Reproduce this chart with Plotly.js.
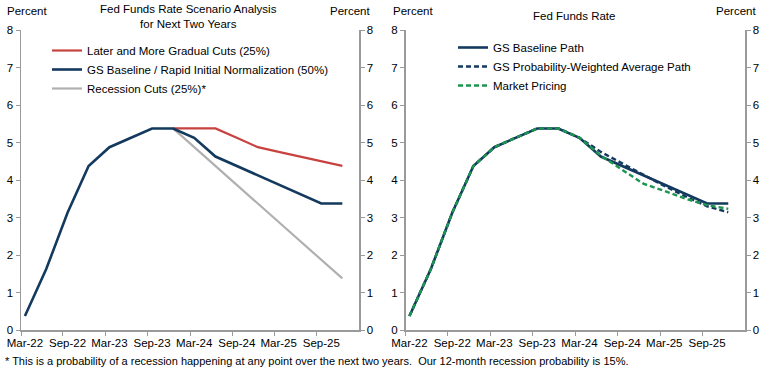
<!DOCTYPE html>
<html>
<head>
<meta charset="utf-8">
<script src="https://cdn.plot.ly/plotly-3.0.1.min.js"></script>
<style>
  html, body { margin: 0; padding: 0; background: #fff; }
  #chart { width: 767px; height: 372px; }
</style>
</head>
<body>
<div id="chart"></div>
<script>
// ---- Data (quarterly) ----
const quarters = ['2022-03-01','2022-06-01','2022-09-01','2022-12-01',
                  '2023-03-01','2023-06-01','2023-09-01','2023-12-01',
                  '2024-03-01','2024-06-01','2024-09-01','2024-12-01',
                  '2025-03-01','2025-06-01','2025-09-01','2025-12-01'];
const scenarioQuarters = ['2023-12-01','2024-03-01','2024-06-01','2024-09-01','2024-12-01',
                          '2025-03-01','2025-06-01','2025-09-01','2025-12-01'];

const gsBaseline   = [0.375,1.625,3.125,4.375,4.875,5.125,5.375,5.375,5.125,4.625,4.375,4.125,3.875,3.625,3.375,3.375];
const laterCuts    = [5.375,5.375,5.375,5.125,4.875,4.75,4.625,4.5,4.375];
const recessionCuts= [5.375,4.875,4.375,3.875,3.375,2.875,2.375,1.875,1.375];

const probWeighted = [0.375,1.625,3.125,4.375,4.875,5.125,5.375,5.375,5.125,4.75,4.44,4.13,3.84,3.56,3.30,3.14];
const marketPricing= [0.375,1.625,3.125,4.375,4.875,5.125,5.375,5.375,5.13,4.65,4.27,3.90,3.71,3.50,3.33,3.23];

const tickDates  = ['2022-03-01','2022-09-01','2023-03-01','2023-09-01','2024-03-01','2024-09-01','2025-03-01','2025-09-01'];
const tickLabels = ['Mar-22','Sep-22','Mar-23','Sep-23','Mar-24','Sep-24','Mar-25','Sep-25'];

const leftTitle  = 'Fed Funds Rate Scenario Analysis<br>for Next Two Years';
const rightTitle = 'Fed Funds Rate';
const footnote   = '* This is a probability of a recession happening at any point over the next two years.  Our 12-month recession probability is 15%.';

// ---- Styles ----
const NAVY = '#133A5E', RED = '#C8423F', GRAY = '#B0B0B0', GREEN = '#1C9550';
const AXIS = '#9A9A9A';
const FONT = 'Liberation Sans, Arial, sans-serif';
const FS = 11.5;
const W = 767, H = 372;
const px = v => v / W, py = v => (H - v) / H;

const traces = [
  {x: scenarioQuarters, y: laterCuts, name: 'Later and More Gradual Cuts (25%)', legendrank: 1,
   mode: 'lines', line: {color: RED, width: 2.2}, xaxis: 'x', yaxis: 'y', legend: 'legend'},
  {x: scenarioQuarters, y: recessionCuts, name: 'Recession Cuts (25%)*', legendrank: 3,
   mode: 'lines', line: {color: GRAY, width: 2.2}, xaxis: 'x', yaxis: 'y', legend: 'legend'},
  {x: quarters, y: gsBaseline, name: 'GS Baseline / Rapid Initial Normalization (50%)', legendrank: 2,
   mode: 'lines', line: {color: NAVY, width: 2.6}, xaxis: 'x', yaxis: 'y', legend: 'legend'},
  // empty helper trace so the right-hand value axis of the left panel is drawn
  {x: [], y: [], xaxis: 'x', yaxis: 'y2', showlegend: false, hoverinfo: 'skip', mode: 'lines'},

  {x: quarters, y: gsBaseline, name: 'GS Baseline Path',
   mode: 'lines', line: {color: NAVY, width: 2.6}, xaxis: 'x2', yaxis: 'y3', legend: 'legend2'},
  {x: quarters, y: probWeighted, name: 'GS Probability-Weighted Average Path',
   mode: 'lines', line: {color: NAVY, width: 2.4, dash: '5px,3px'}, xaxis: 'x2', yaxis: 'y3', legend: 'legend2'},
  {x: quarters, y: marketPricing, name: 'Market Pricing',
   mode: 'lines', line: {color: GREEN, width: 2.4, dash: '5px,3px'}, xaxis: 'x2', yaxis: 'y3', legend: 'legend2'},
  // empty helper trace so the right-hand value axis of the right panel is drawn
  {x: [], y: [], xaxis: 'x2', yaxis: 'y4', showlegend: false, hoverinfo: 'skip', mode: 'lines'}
];

const xDomL = [px(21), px(359)], xDomR = [px(405.5), px(745)];
const yDom = [py(330), py(30)];
const xRange = ['2022-02-12', '2026-02-11'];

function xAxis(domain, anchor) {
  return {
    domain: domain, anchor: anchor, type: 'date', range: xRange,
    tickmode: 'array', tickvals: tickDates, ticktext: tickLabels,
    ticks: '', ticklabelstandoff: 2,
    minor: {tickmode: 'linear', tick0: '2022-02-12', dtick: 'M6', ticks: 'outside', ticklen: 4,
            tickcolor: AXIS, tickwidth: 1, showgrid: false},
    showline: true, linecolor: AXIS, linewidth: 1.5, showgrid: false, zeroline: false,
    tickfont: {family: FONT, size: FS, color: '#000'}, fixedrange: true
  };
}
function yAxis(anchor, side, overlaying) {
  const a = {
    domain: yDom, anchor: anchor, side: side, range: [0, 8], dtick: 1, tick0: 0,
    ticks: 'outside', ticklen: 4, tickcolor: AXIS, tickwidth: 1,
    showline: true, linecolor: AXIS, linewidth: 1.5, showgrid: false, zeroline: false,
    tickfont: {family: FONT, size: FS, color: '#000'}, fixedrange: true
  };
  if (overlaying) a.overlaying = overlaying;
  return a;
}

const ann = (text, x, y, opts) => Object.assign({
  text: text, x: px(x), y: py(y), xref: 'paper', yref: 'paper', showarrow: false,
  xanchor: 'center', yanchor: 'middle', font: {family: FONT, size: FS, color: '#000'}
}, opts || {});

const layout = {
  width: W, height: H, margin: {l: 0, r: 0, t: 0, b: 0},
  paper_bgcolor: '#fff', plot_bgcolor: '#fff',
  font: {family: FONT, size: FS, color: '#000'},
  xaxis: xAxis(xDomL, 'y'),
  xaxis2: xAxis(xDomR, 'y3'),
  yaxis: yAxis('x', 'left'),
  yaxis2: yAxis('x', 'right', 'y'),
  yaxis3: yAxis('x2', 'left'),
  yaxis4: yAxis('x2', 'right', 'y3'),
  legend: {x: px(47), y: py(36), xanchor: 'left', yanchor: 'top', bgcolor: 'rgba(0,0,0,0)',
           font: {family: FONT, size: FS, color: '#000'}, traceorder: 'normal'},
  legend2: {x: px(453), y: py(33), xanchor: 'left', yanchor: 'top', bgcolor: 'rgba(0,0,0,0)',
            font: {family: FONT, size: FS, color: '#000'}, traceorder: 'normal'},
  annotations: [
    ann(leftTitle, 188, 17),
    ann(rightTitle, 574, 16),
    ann('Percent', 27, 11),
    ann('Percent', 350, 11),
    ann('Percent', 413, 11),
    ann('Percent', 736, 11),
    ann(footnote, 3, 361, {xanchor: 'left', font: {family: FONT, size: 11, color: '#000'}})
  ],
  showlegend: true
};

Plotly.newPlot('chart', traces, layout, {displayModeBar: false, staticPlot: true});
</script>
</body>
</html>
